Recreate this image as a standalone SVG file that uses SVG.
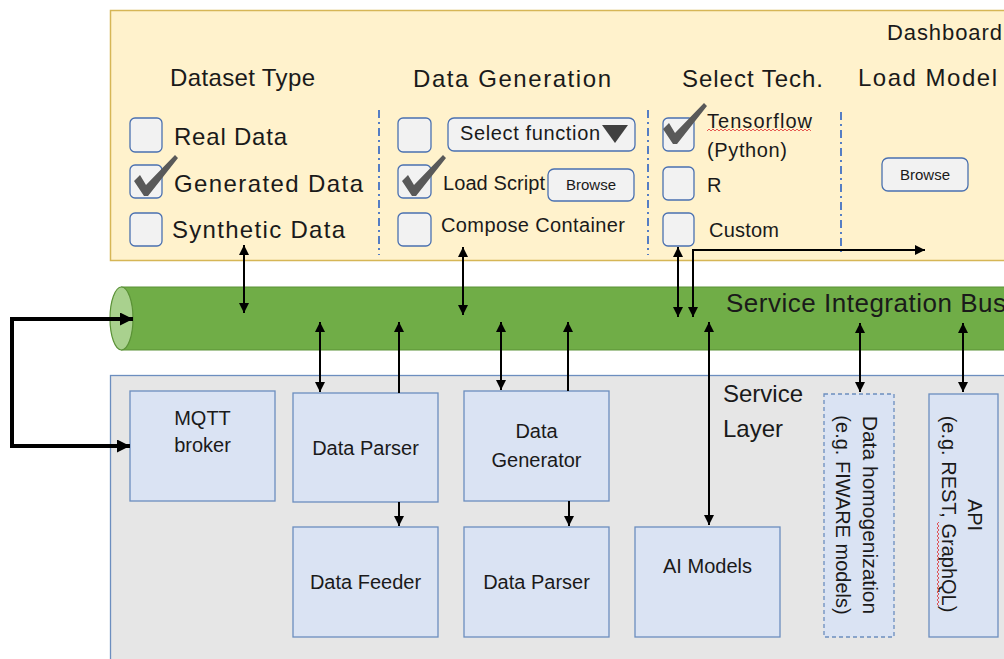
<svg xmlns="http://www.w3.org/2000/svg" width="1004" height="659" viewBox="0 0 1004 659">
<style>
.t{font-family:"Liberation Sans",Arial,sans-serif;fill:#1a1a1a}
.h{font-size:24px}
.o{font-size:24px}
.s{font-size:20px}
.n{font-size:20px}
.bt{font-size:15px}
.box{fill:#dae3f3;stroke:#6c8ebf;stroke-width:1.3}
.cb{fill:#f2f2f2;stroke:#4a70b0;stroke-width:1.3}
.chk{fill:#595959}
.sep{stroke:#4472c4;stroke-width:1.8;stroke-dasharray:8 4 2 4;fill:none}
.sq{fill:none;stroke:#e03030;stroke-width:0.8}
.bi{marker-start:url(#a);marker-end:url(#a)}
.up{marker-end:url(#a)}
.thick{stroke-width:4;marker-start:url(#b);marker-end:url(#b)}
</style>
<defs>
<marker id="a" viewBox="0 0 10 10" refX="10" refY="5" markerWidth="10" markerHeight="10" markerUnits="userSpaceOnUse" orient="auto-start-reverse"><path d="M0,0 L10,5 L0,10 z" fill="#000"/></marker>
<marker id="b" viewBox="0 0 10 10" refX="10" refY="5" markerWidth="14" markerHeight="13" markerUnits="userSpaceOnUse" orient="auto-start-reverse"><path d="M0,0 L10,5 L0,10 z" fill="#000"/></marker>
<path id="check" d="M0,26 L6,20 L12,30 L41,0 L44,3 L14,41 L10,41 Z"/>
</defs>

<g id="dashboard">
<rect x="110.5" y="10.5" width="1000" height="250" fill="#fff2cc" stroke="#d6b656" stroke-width="1.5"/>
<text class="t" x="887" y="40" font-size="22" textLength="115">Dashboard</text>
<text class="t h" x="170" y="86" textLength="145">Dataset Type</text>
<text class="t h" x="413" y="87" textLength="198">Data Generation</text>
<text class="t h" x="682" y="87" textLength="141">Select Tech.</text>
<text class="t h" x="858" y="86" textLength="139">Load Model</text>
<path class="sep" d="M379,110 V255"/>
<path class="sep" d="M648,110 V255"/>
<path class="sep" d="M841,112 V253"/>
</g>

<g id="dataset-type">
<rect class="cb" x="130" y="118" width="32" height="34" rx="5"/>
<rect class="cb" x="130" y="165" width="32" height="33" rx="5"/>
<rect class="cb" x="130" y="213" width="32" height="33" rx="5"/>
<use href="#check" class="chk" x="134" y="155"/>
<text class="t o" x="174" y="145" textLength="113">Real Data</text>
<text class="t o" x="174" y="192" textLength="189">Generated Data</text>
<text class="t o" x="172" y="238" textLength="173">Synthetic Data</text>
</g>

<g id="data-generation">
<rect class="cb" x="398" y="118" width="33" height="34" rx="5"/>
<rect class="cb" x="398" y="165" width="33" height="33" rx="5"/>
<rect class="cb" x="398" y="213" width="33" height="33" rx="5"/>
<use href="#check" class="chk" x="402" y="155"/>
<rect class="cb" x="448" y="118" width="187" height="33" rx="6"/>
<text class="t n" x="460" y="140" textLength="140">Select function</text>
<polygon points="602,125 628,125 615,143" fill="#404040"/>
<text class="t s" x="443" y="190" textLength="102">Load Script</text>
<rect class="cb" x="548" y="169" width="86" height="32" rx="6"/>
<text class="t bt" x="591" y="190" text-anchor="middle">Browse</text>
<text class="t s" x="441" y="232" textLength="184">Compose Container</text>
</g>

<g id="select-tech">
<rect class="cb" x="663" y="118" width="31" height="33" rx="5"/>
<rect class="cb" x="663" y="167" width="31" height="33" rx="5"/>
<rect class="cb" x="663" y="213" width="31" height="33" rx="5"/>
<use href="#check" class="chk" x="663" y="103"/>
<text class="t s" x="707" y="128" textLength="105">Tensorflow</text>
<path class="sq" d="M707,131 l2,-2 l2,2 l2,-2 l2,2 l2,-2 l2,2 l2,-2 l2,2 l2,-2 l2,2 l2,-2 l2,2 l2,-2 l2,2 l2,-2 l2,2 l2,-2 l2,2 l2,-2 l2,2 l2,-2 l2,2 l2,-2 l2,2 l2,-2 l2,2 l2,-2 l2,2 l2,-2 l2,2 l2,-2 l2,2 l2,-2 l2,2 l2,-2 l2,2 l2,-2 l2,2 l2,-2 l2,2 l2,-2 l2,2 l2,-2 l2,2 l2,-2 l2,2 l2,-2 l2,2 l2,-2 l2,2 l2,-2 l2,2"/>
<text class="t s" x="707" y="157" textLength="80">(Python)</text>
<text class="t s" x="707" y="192">R</text>
<text class="t s" x="709" y="237" textLength="70">Custom</text>
</g>

<g id="load-model">
<rect class="cb" x="882" y="158" width="86" height="33" rx="6"/>
<text class="t bt" x="925" y="180" text-anchor="middle">Browse</text>
</g>

<g id="bus">
<path d="M121.5,287 H1010 V350 H121.5 Z" fill="#70ad47" stroke="#5b9237" stroke-width="1.2"/>
<ellipse cx="121.5" cy="318.5" rx="11.5" ry="31.5" fill="#a9d18e" stroke="#5b9237" stroke-width="1.2"/>
<text class="t" x="726" y="312" font-size="26" textLength="280">Service Integration Bus</text>
</g>

<g id="service-layer">
<rect x="110.5" y="375.5" width="1000" height="300" fill="#e6e6e6" stroke="#6c8ebf" stroke-width="1.3"/>
<text class="t" x="723" y="402" font-size="24">Service</text>
<text class="t" x="723" y="437" font-size="24">Layer</text>
</g>

<g id="mqtt-broker">
<rect class="box" x="130" y="391" width="145" height="110"/>
<text class="t n" x="202.5" y="425" text-anchor="middle">MQTT</text>
<text class="t n" x="202.5" y="452" text-anchor="middle">broker</text>
</g>
<g id="data-parser-1">
<rect class="box" x="293" y="393" width="145" height="109"/>
<text class="t n" x="365.5" y="455" text-anchor="middle">Data Parser</text>
</g>
<g id="data-feeder">
<rect class="box" x="293" y="527" width="145" height="110"/>
<text class="t n" x="365.5" y="589" text-anchor="middle">Data Feeder</text>
</g>
<g id="data-generator">
<rect class="box" x="464" y="391" width="145" height="110"/>
<text class="t n" x="536.5" y="438" text-anchor="middle">Data</text>
<text class="t n" x="536.5" y="467" text-anchor="middle">Generator</text>
</g>
<g id="data-parser-2">
<rect class="box" x="464" y="527" width="145" height="110"/>
<text class="t n" x="536.5" y="589" text-anchor="middle">Data Parser</text>
</g>
<g id="ai-models">
<rect class="box" x="635" y="527" width="145" height="110"/>
<text class="t n" x="707.5" y="573" text-anchor="middle">AI Models</text>
</g>
<g id="data-homogenization">
<rect x="824" y="394" width="70" height="243" fill="#dae3f3" stroke="#6c8ebf" stroke-width="1.3" stroke-dasharray="4 3"/>
<text class="t" font-size="21" transform="rotate(90)" x="515" y="-863" text-anchor="middle">Data homogenization</text>
<text class="t n" transform="rotate(90)" x="515" y="-836" text-anchor="middle">(e.g. FIWARE models)</text>
</g>
<g id="api">
<rect class="box" x="929" y="394" width="69" height="243"/>
<text class="t n" transform="rotate(90)" x="515" y="-968" text-anchor="middle">API</text>
<text class="t s" transform="rotate(90)" x="514" y="-942" text-anchor="middle">(e.g. REST, GraphQL)</text>
<path class="sq" d="M939,522 l-2,2 l2,2 l-2,2 l2,2 l-2,2 l2,2 l-2,2 l2,2 l-2,2 l2,2 l-2,2 l2,2 l-2,2 l2,2 l-2,2 l2,2 l-2,2 l2,2 l-2,2 l2,2 l-2,2 l2,2 l-2,2 l2,2 l-2,2 l2,2 l-2,2 l2,2 l-2,2 l2,2 l-2,2 l2,2 l-2,2 l2,2 l-2,2 l2,2 l-2,2 l2,2 l-2,2 l2,2 l-2,2 l2,2"/>
</g>

<g id="connectors" fill="none" stroke="#000" stroke-width="2">
<path class="bi" d="M244,245 V313"/>
<path class="bi" d="M463,247 V315"/>
<path class="bi" d="M678,247 V317"/>
<path class="bi" d="M693,317 V250 H925"/>
<path class="thick" d="M133,319 H12 V446 H130"/>
<path class="bi" d="M320,322 V392"/>
<path class="up" d="M399,393 V322"/>
<path class="bi" d="M501,322 V390"/>
<path class="up" d="M568,391 V322"/>
<path class="bi" d="M709,322 V525"/>
<path class="bi" d="M860,323 V392"/>
<path class="bi" d="M963,323 V392"/>
<path class="up" d="M399,502 V526"/>
<path class="up" d="M569,501 V526"/>
</g>
</svg>
